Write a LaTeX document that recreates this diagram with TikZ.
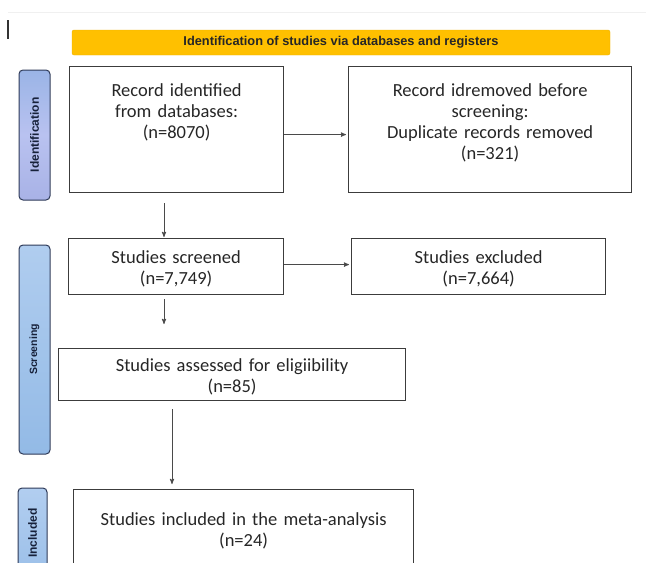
\documentclass[tikz,border=0pt]{standalone}
\usepackage{fontspec}
\setmainfont{Carlito}
\newfontfamily\headfont{Liberation Sans}
\usetikzlibrary{arrows}

\definecolor{boxline}{HTML}{3C3C3C}
\definecolor{boxtext}{HTML}{262626}
\definecolor{arrowline}{HTML}{4A4A4A}
\definecolor{bannerfill}{HTML}{FFC000}
\definecolor{bannerline}{HTML}{EDB100}
\definecolor{phaseline}{HTML}{2E3A58}
\definecolor{phasetext}{HTML}{17213A}
\definecolor{idleft}{HTML}{9AB4E6}
\definecolor{idmid}{HTML}{B9C2F0}
\definecolor{idright}{HTML}{A8B2E6}
\definecolor{scleft}{HTML}{B0CDEF}
\definecolor{scright}{HTML}{93BAE6}
\definecolor{inleft}{HTML}{B2CEF0}
\definecolor{inright}{HTML}{9BBFE8}

\begin{document}
\begin{tikzpicture}[x=1pt,y=-1pt,>=stealth',shorten >=1pt,
    box/.style={draw=boxline,line width=1.2pt,inner sep=0pt,align=center,anchor=north west,
        text=boxtext,font=\fontsize{18.5}{21}\selectfont},
    phase/.style={draw=phaseline,line width=1pt,rounded corners=4pt,rotate=90,inner sep=0pt,
        text=phasetext,font=\headfont\bfseries\fontsize{12}{14}\selectfont},
    link/.style={->,draw=arrowline,line width=0.9pt}]

                \useasboundingbox (0,0) rectangle (647,562);

                % stray marks of the scan
                \draw[gray!12,line width=1pt] (8,12) -- (647,12);
                \draw[black!80,line width=1.8pt] (8,20) -- (8,40);

                \node[fill=bannerfill,draw=bannerline,rounded corners=2pt,minimum width=538pt,minimum height=25pt,
                    text=boxtext,font=\headfont\bfseries\fontsize{12.8}{14}\selectfont] (banner) at (341,42.5)
                    {Identification of studies via databases and registers};

                % phase labels (shading turns with the node: top = left side)
                \node[phase,top color=idleft,bottom color=idright,middle color=idmid,
                    minimum width=130pt,minimum height=31pt] (phid) at (34.5,135) {Identification};

                \node[phase,top color=scleft,bottom color=scright,
                    minimum width=209pt,minimum height=31pt,font=\headfont\bfseries\fontsize{10.5}{12}\selectfont]
                    (phsc) at (34.5,349.5) {Screening};

                \node[phase,top color=inleft,bottom color=inright,
                    minimum width=90pt,minimum height=29pt] (phin) at (32.5,533) {Included};

                % boxes
                \node[box,text width=214pt,text height=30pt,text depth=96pt] (id1) at (69,66)
                    {Record identified\\from databases:\\(n=8070)};

                \node[box,text width=283pt,text height=30pt,text depth=96pt] (id2) at (348,66)
                    {Record idremoved before\\screening:\\Duplicate records removed\\(n=321)};

                \node[box,text width=215pt,text height=25pt,text depth=31pt] (sc1) at (68,238)
                    {Studies screened\\(n=7,749)};

                \node[box,text width=254pt,text height=25pt,text depth=31pt] (sc2) at (351,238)
                    {Studies excluded\\(n=7,664)};

                \node[box,text width=347pt,text height=23pt,text depth=29pt] (sc3) at (58,348)
                    {Studies assessed for eligiibility\\(n=85)};

                \node[box,text width=340pt,text height=36pt,text depth=60pt] (in1) at (73,489)
                    {Studies included in the meta-analysis\\(n=24)};

                \foreach \from/\to/\dy in {id1/id2/-5, sc1/sc2/2}
                    {
                    \draw[link,shorten >=2pt] ([yshift=\dy pt]\from.east) -- ([yshift=\dy pt]\to.west);
                    }

                \draw[link,shorten <=10pt] (164,0 |- id1.south) -- (164,0 |- sc1.north);
                \draw[link,shorten <=4pt,shorten >=24pt] (164,0 |- sc1.south) -- (164,0 |- sc3.north);
                \draw[link,shorten <=8pt,shorten >=5pt] (172,0 |- sc3.south) -- (172,0 |- in1.north);

\end{tikzpicture}
\end{document}
